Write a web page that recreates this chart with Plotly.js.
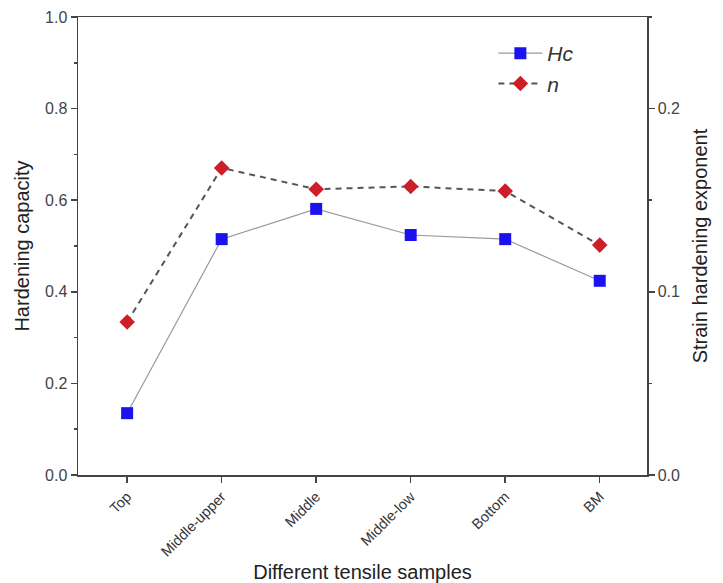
<!DOCTYPE html>
<html><head><meta charset="utf-8">
<script src="https://cdn.plot.ly/plotly-3.0.1.min.js"></script>
<style>body{margin:0;background:#fff}#chart{width:723px;height:583px}</style>
</head><body><div id="chart"></div>
<script>
const categories = ["Top","Middle-upper","Middle","Middle-low","Bottom","BM"];
const hcValues = [0.135, 0.515, 0.581, 0.524, 0.515, 0.424];
const nValues = [0.0835, 0.1676, 0.156, 0.1575, 0.155, 0.1255];

const axisColor = '#444';
const font = 'Liberation Sans, Arial, sans-serif';

const traces = [
  {x: categories, y: hcValues, name: 'Hc', type: 'scatter', mode: 'lines+markers',
   line: {color: '#999', width: 1.2},
   marker: {symbol: 'square', size: 12, color: '#1c12f0'}},
  {x: categories, y: nValues, name: 'n', type: 'scatter', mode: 'lines+markers', yaxis: 'y2',
   line: {color: '#555', width: 2, dash: '6px,5px'},
   marker: {symbol: 'diamond', size: 12, color: '#cc1f28'}}
];

const layout = {
  width: 723, height: 583,
  margin: {l: 78, r: 76, t: 17, b: 108},
  paper_bgcolor: '#fff', plot_bgcolor: '#fff',
  font: {family: font, color: '#333'},
  showlegend: true,
  legend: {x: 0.73, y: 0.965, xanchor: 'left', yanchor: 'top', bgcolor: 'rgba(0,0,0,0)',
           font: {size: 21, family: font, color: '#333', style: 'italic'}, itemwidth: 44, tracegroupgap: 4},
  xaxis: {
    type: 'category', range: [-0.52, 5.5],
    showline: true, linecolor: axisColor, linewidth: 1.5, mirror: true,
    ticks: 'outside', ticklen: 6, tickcolor: axisColor, tickwidth: 1.5,
    tickangle: -45, tickfont: {size: 14.5, color: '#333'},
    showgrid: false, zeroline: false,
    title: {text: 'Different tensile samples', font: {size: 20, color: '#222'}, standoff: 8}
  },
  yaxis: {
    range: [0, 1.0], dtick: 0.2, tickformat: '.1f',
    showline: true, linecolor: axisColor, linewidth: 1.5,
    ticks: 'outside', ticklen: 6, tickcolor: axisColor, tickwidth: 1.5,
    minor: {dtick: 0.1, ticks: 'outside', ticklen: 3, tickcolor: axisColor},
    tickfont: {size: 16, color: '#444'},
    showgrid: false, zeroline: false,
    title: {text: 'Hardening capacity', font: {size: 20, color: '#222'}, standoff: 10}
  },
  yaxis2: {
    overlaying: 'y', side: 'right', range: [0, 0.25], dtick: 0.1, tickformat: '.1f',
    showline: true, linecolor: axisColor, linewidth: 1.5,
    ticks: 'outside', ticklen: 6, tickcolor: axisColor, tickwidth: 1.5,
    minor: {dtick: 0.05, ticks: 'outside', ticklen: 3, tickcolor: axisColor},
    tickfont: {size: 16, color: '#444'},
    showgrid: false, zeroline: false,
    title: {text: 'Strain hardening exponent', font: {size: 20, color: '#222'}, standoff: 14}
  }
};

Plotly.newPlot('chart', traces, layout, {displayModeBar: false, staticPlot: true});
</script></body></html>
